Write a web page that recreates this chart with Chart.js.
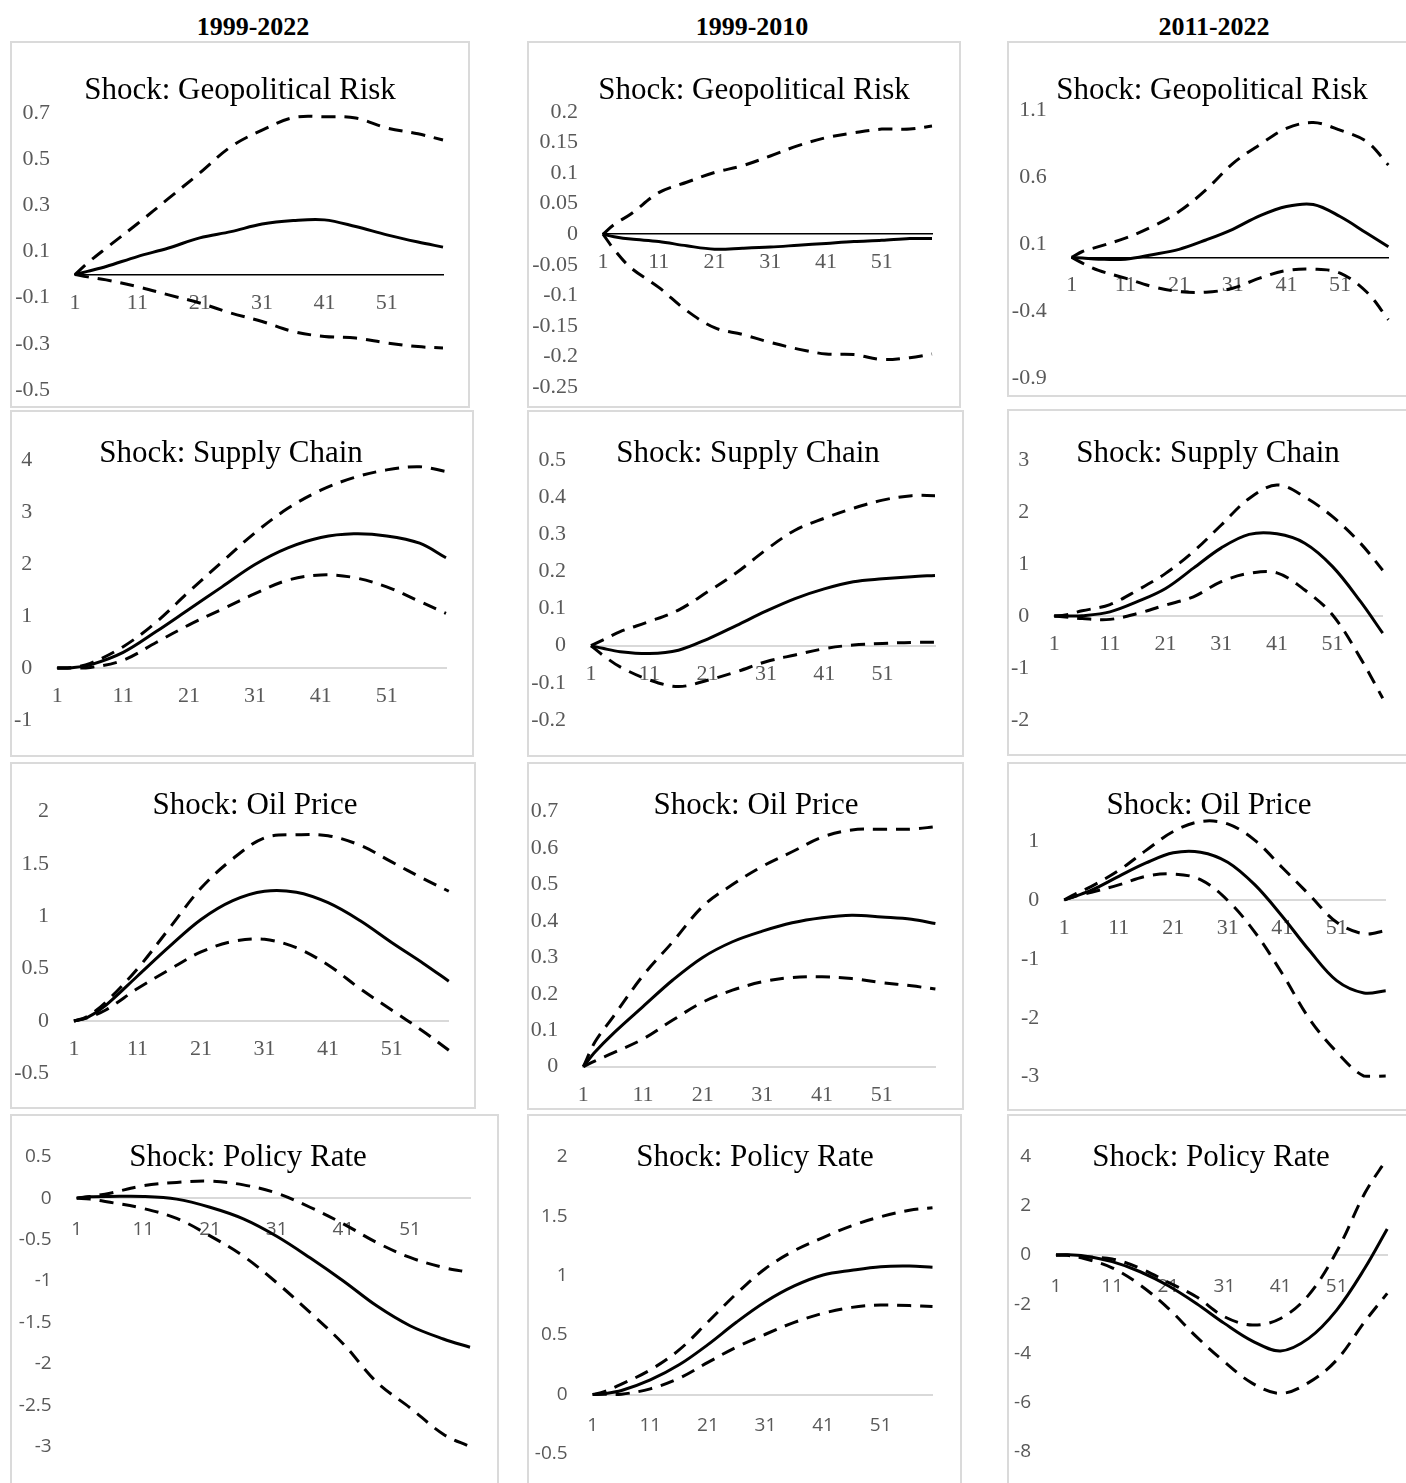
<!DOCTYPE html>
<html>
<head>
<meta charset="utf-8">
<script src="https://cdn.jsdelivr.net/npm/chart.js@4.4.1/dist/chart.umd.min.js"></script>
<style>
  html, body { margin: 0; padding: 0; background: #fff; }
  body { position: relative; width: 1406px; height: 1483px; overflow: hidden; }
  .period {
    position: absolute; top: 12px; line-height: 30px;
    font: bold 26px "Liberation Serif", serif; color: #000;
    transform: translateX(-50%); white-space: nowrap;
  }
  .frame { position: absolute; box-sizing: border-box; border: 2px solid #dadada; }
  canvas { position: absolute; }
</style>
</head>
<body>
<div class="period" style="left:253px">1999-2022</div>
<div class="period" style="left:752px">1999-2010</div>
<div class="period" style="left:1214px">2011-2022</div>

<script>
// horizons at which each impulse response is recorded
const STEPS = [1, 3, 6, 11, 16, 21, 26, 31, 36, 41, 46, 51, 56, 60];
const X_TICKS = [1, 11, 21, 31, 41, 51];
const SHOCKS = ['Geopolitical Risk', 'Supply Chain', 'Oil Price', 'Policy Rate'];

// --- Geopolitical risk shock ---
const geoIrfFull  = [0, 0.014, 0.035, 0.078, 0.115, 0.159, 0.186, 0.219, 0.234, 0.237, 0.208, 0.172, 0.141, 0.119];
const geoHiFull   = [0, 0.05, 0.115, 0.22, 0.33, 0.44, 0.554, 0.626, 0.68, 0.684, 0.678, 0.635, 0.61, 0.583];
const geoLoFull   = [0, -0.01, -0.023, -0.052, -0.088, -0.123, -0.167, -0.203, -0.247, -0.268, -0.275, -0.296, -0.312, -0.318];
const geoTicksFull = [-0.5, -0.3, -0.1, 0.1, 0.3, 0.5, 0.7];

const geoIrfEarly = [0, -0.004, -0.008, -0.012, -0.019, -0.0245, -0.023, -0.021, -0.018, -0.015, -0.012, -0.01, -0.007, -0.007];
const geoHiEarly  = [0, 0.016, 0.033, 0.068, 0.085, 0.101, 0.112, 0.128, 0.145, 0.158, 0.166, 0.172, 0.172, 0.177];
const geoLoEarly  = [0, -0.025, -0.055, -0.087, -0.125, -0.153, -0.164, -0.177, -0.188, -0.196, -0.197, -0.205, -0.202, -0.196];
const geoTicksEarly = [-0.25, -0.2, -0.15, -0.1, -0.05, 0, 0.05, 0.1, 0.15, 0.2];

const geoIrfLate  = [0, -0.005, -0.013, -0.013, 0.02, 0.06, 0.13, 0.21, 0.31, 0.38, 0.395, 0.305, 0.18, 0.08];
const geoHiLate   = [0, 0.044, 0.08, 0.144, 0.23, 0.342, 0.504, 0.70, 0.84, 0.963, 1.006, 0.95, 0.863, 0.69];
const geoLoLate   = [0, -0.043, -0.097, -0.155, -0.217, -0.255, -0.26, -0.23, -0.155, -0.098, -0.088, -0.117, -0.26, -0.465];
const geoTicksLate = [-0.9, -0.4, 0.1, 0.6, 1.1];

// --- Supply chain shock ---
const supIrfFull  = [0, 0.005, 0.06, 0.30, 0.70, 1.13, 1.56, 1.99, 2.31, 2.51, 2.58, 2.54, 2.40, 2.12];
const supHiFull   = [0, 0.005, 0.09, 0.41, 0.88, 1.47, 2.04, 2.60, 3.07, 3.42, 3.66, 3.81, 3.87, 3.78];
const supLoFull   = [0, 0, 0.01, 0.15, 0.49, 0.83, 1.13, 1.43, 1.69, 1.79, 1.74, 1.56, 1.28, 1.05];
const supTicksFull = [-1, 0, 1, 2, 3, 4];

const supIrfEarly = [0, -0.007, -0.016, -0.021, -0.012, 0.018, 0.055, 0.093, 0.127, 0.153, 0.172, 0.18, 0.186, 0.189];
const supHiEarly  = [0, 0.015, 0.038, 0.065, 0.096, 0.145, 0.197, 0.258, 0.311, 0.343, 0.37, 0.392, 0.404, 0.404];
const supLoEarly  = [0, -0.025, -0.057, -0.092, -0.11, -0.093, -0.07, -0.043, -0.025, -0.008, 0.002, 0.006, 0.009, 0.009];
const supTicksEarly = [-0.2, -0.1, 0, 0.1, 0.2, 0.3, 0.4, 0.5];

const supIrfLate  = [0, 0, 0.005, 0.08, 0.28, 0.53, 0.92, 1.31, 1.57, 1.58, 1.40, 0.95, 0.28, -0.33];
const supHiLate   = [0, 0.02, 0.10, 0.22, 0.50, 0.82, 1.24, 1.75, 2.26, 2.52, 2.29, 1.91, 1.40, 0.88];
const supLoLate   = [0, -0.02, -0.05, -0.065, 0.05, 0.21, 0.37, 0.66, 0.82, 0.83, 0.50, 0.02, -0.81, -1.58];
const supTicksLate = [-2, -1, 0, 1, 2, 3];

// --- Oil price shock ---
const oilIrfFull  = [0, 0.03, 0.15, 0.43, 0.71, 0.97, 1.15, 1.24, 1.23, 1.13, 0.96, 0.75, 0.55, 0.38];
const oilHiFull   = [0, 0.04, 0.18, 0.50, 0.885, 1.27, 1.55, 1.75, 1.78, 1.77, 1.68, 1.52, 1.36, 1.24];
const oilLoFull   = [0, 0.03, 0.105, 0.31, 0.49, 0.66, 0.76, 0.78, 0.70, 0.535, 0.31, 0.105, -0.10, -0.28];
const oilTicksFull = [-0.5, 0, 0.5, 1, 1.5, 2];

const oilIrfEarly = [0, 0.041, 0.091, 0.165, 0.238, 0.30, 0.343, 0.372, 0.395, 0.409, 0.416, 0.411, 0.405, 0.393];
const oilHiEarly  = [0, 0.069, 0.137, 0.25, 0.343, 0.44, 0.50, 0.55, 0.59, 0.63, 0.65, 0.652, 0.652, 0.659];
const oilLoEarly  = [0, 0.016, 0.038, 0.076, 0.128, 0.177, 0.21, 0.233, 0.245, 0.247, 0.242, 0.231, 0.222, 0.213];
const oilTicksEarly = [0, 0.1, 0.2, 0.3, 0.4, 0.5, 0.6, 0.7];

const oilIrfLate  = [0, 0.062, 0.164, 0.40, 0.627, 0.80, 0.81, 0.64, 0.254, -0.277, -0.86, -1.37, -1.58, -1.54];
const oilHiLate   = [0, 0.10, 0.23, 0.50, 0.84, 1.16, 1.33, 1.29, 1.01, 0.55, 0.085, -0.38, -0.576, -0.52];
const oilLoLate   = [0, 0.062, 0.13, 0.254, 0.40, 0.44, 0.345, -0.01, -0.55, -1.25, -2.02, -2.58, -2.99, -2.99];
const oilTicksLate = [-3, -2, -1, 0, 1];

// --- Policy rate shock ---
const polIrfFull  = [0, 0.016, 0.02, 0.02, -0.012, -0.11, -0.25, -0.46, -0.72, -1.00, -1.30, -1.54, -1.70, -1.80];
const polHiFull   = [0, 0.02, 0.06, 0.15, 0.19, 0.205, 0.16, 0.06, -0.11, -0.31, -0.535, -0.716, -0.837, -0.897];
const polLoFull   = [0, -0.012, -0.05, -0.125, -0.245, -0.455, -0.70, -1.02, -1.38, -1.76, -2.22, -2.53, -2.85, -3.0];
const polTicksFull = [-3, -2.5, -2, -1.5, -1, -0.5, 0, 0.5];

const polIrfEarly = [0, 0.008, 0.034, 0.123, 0.25, 0.42, 0.61, 0.78, 0.913, 1.005, 1.045, 1.075, 1.08, 1.07];
const polHiEarly  = [0, 0.025, 0.087, 0.207, 0.375, 0.61, 0.85, 1.06, 1.21, 1.32, 1.42, 1.495, 1.55, 1.57];
const polLoEarly  = [0, 0.003, 0.003, 0.048, 0.137, 0.27, 0.40, 0.507, 0.607, 0.683, 0.733, 0.753, 0.748, 0.74];
const polTicksEarly = [-0.5, 0, 0.5, 1, 1.5, 2];

const polIrfLate  = [0, 0.01, -0.04, -0.27, -0.68, -1.25, -1.97, -2.78, -3.50, -3.90, -3.39, -2.24, -0.54, 1.06];
const polHiLate   = [0, 0, -0.07, -0.16, -0.54, -1.11, -1.70, -2.51, -2.85, -2.58, -1.63, 0.14, 2.51, 3.93];
const polLoLate   = [0, -0.01, -0.14, -0.52, -1.22, -2.17, -3.32, -4.34, -5.22, -5.63, -5.19, -4.27, -2.71, -1.56];
const polTicksLate = [-8, -6, -4, -2, 0, 2, 4];

// one entry per panel, row by row
const PANELS = [
  { shock: SHOCKS[0], irf: geoIrfFull,  hi: geoHiFull,  lo: geoLoFull,  ticks: geoTicksFull },
  { shock: SHOCKS[0], irf: geoIrfEarly, hi: geoHiEarly, lo: geoLoEarly, ticks: geoTicksEarly },
  { shock: SHOCKS[0], irf: geoIrfLate,  hi: geoHiLate,  lo: geoLoLate,  ticks: geoTicksLate },
  { shock: SHOCKS[1], irf: supIrfFull,  hi: supHiFull,  lo: supLoFull,  ticks: supTicksFull },
  { shock: SHOCKS[1], irf: supIrfEarly, hi: supHiEarly, lo: supLoEarly, ticks: supTicksEarly },
  { shock: SHOCKS[1], irf: supIrfLate,  hi: supHiLate,  lo: supLoLate,  ticks: supTicksLate },
  { shock: SHOCKS[2], irf: oilIrfFull,  hi: oilHiFull,  lo: oilLoFull,  ticks: oilTicksFull },
  { shock: SHOCKS[2], irf: oilIrfEarly, hi: oilHiEarly, lo: oilLoEarly, ticks: oilTicksEarly },
  { shock: SHOCKS[2], irf: oilIrfLate,  hi: oilHiLate,  lo: oilLoLate,  ticks: oilTicksLate, max: 1.5 },
  { shock: SHOCKS[3], irf: polIrfFull,  hi: polHiFull,  lo: polLoFull,  ticks: polTicksFull },
  { shock: SHOCKS[3], irf: polIrfEarly, hi: polHiEarly, lo: polLoEarly, ticks: polTicksEarly },
  { shock: SHOCKS[3], irf: polIrfLate,  hi: polHiLate,  lo: polLoLate,  ticks: polTicksLate },
];

// page geometry: frame [x, y, w, h], plot area [left, right, top, bottom], title centre [x, y]
const LAYOUT = [
  [[10, 41, 460, 367],    [75, 443, 113, 390],         [240, 91]],
  [[527, 41, 434, 367],   [603, 932, 112, 387],        [754, 91]],
  [[1007, 41, 410, 356],  [1071.7, 1388.4, 110, 378],  [1212, 91]],
  [[10, 410, 464, 347],   [57.3, 446, 460, 720],       [231, 454]],
  [[527, 410, 437, 347],  [591, 935, 460, 720],        [748, 454]],
  [[1007, 409, 410, 347], [1054.3, 1382.7, 460, 720],  [1208, 454]],
  [[10, 762, 466, 347],   [74, 448.8, 811.7, 1073.3],  [255, 806]],
  [[527, 762, 437, 348],  [583.3, 935.4, 811.7, 1066.7], [756, 806]],
  [[1007, 762, 410, 349], [1064.3, 1385.7, 811.5, 1076.7], [1209, 806]],
  [[10, 1114, 489, 380],  [76.7, 470, 1156.7, 1446.7], [248, 1158]],
  [[527, 1114, 435, 380], [592.7, 932.5, 1156.7, 1454], [755, 1158]],
  [[1007, 1114, 410, 380], [1056, 1387.2, 1156.7, 1451.7], [1211, 1158]],
];

const SERIF = '"Liberation Serif", "Times New Roman", serif';
const SANS = '"Open Sans", "Noto Sans", sans-serif';

const toPoints = vals => STEPS.map((x, i) => ({ x, y: vals[i] }));
const fmt = v => String(+Number(v).toFixed(4));

// moves the title block sideways so it sits on its own centre line
const titleCentre = {
  id: 'titleCentre',
  afterLayout(chart, args, opts) {
    const t = chart.titleBlock;
    if (!t || opts.x === undefined) return;
    const dx = opts.x - (t.left + t.right) / 2;
    t.left += dx;
    t.right += dx;
  }
};

PANELS.forEach((p, i) => {
  const [[bx, by, bw, bh], [L, R, T, B], [tx, ty]] = LAYOUT[i];
  const row = Math.floor(i / 3);

  const frame = document.createElement('div');
  frame.className = 'frame';
  Object.assign(frame.style, { left: bx + 'px', top: by + 'px', width: bw + 'px', height: bh + 'px' });
  document.body.appendChild(frame);

  const canvas = document.createElement('canvas');
  canvas.width = bw;
  canvas.height = bh;
  Object.assign(canvas.style, { left: bx + 'px', top: by + 'px', width: bw + 'px', height: bh + 'px' });
  document.body.appendChild(canvas);

  const padRight = bw - (R - bx);
  const padTop = T - by;
  const padBottom = bh - (B - by);
  const yAxisWidth = L - bx;

  const tickFont = row === 3 ? { family: SANS, size: 19 } : { family: SERIF, size: 22 };
  const zeroLine = row === 0 ? { color: '#000', width: 1.5 } : { color: '#d9d9d9', width: 2 };

  const dashed = vals => ({
    data: toPoints(vals), borderColor: '#000', borderWidth: 3,
    borderDash: [14, 9], clip: false
  });

  new Chart(canvas, {
    type: 'line',
    data: {
      datasets: [
        dashed(p.hi),
        dashed(p.lo),
        { data: toPoints(p.irf), borderColor: '#000', borderWidth: 3, clip: false }
      ]
    },
    plugins: [titleCentre],
    options: {
      responsive: false,
      animation: false,
      events: [],
      layout: { padding: { left: 0, right: padRight, top: padTop, bottom: padBottom } },
      elements: {
        point: { radius: 0 },
        line: { tension: 0.35, borderCapStyle: 'butt', borderJoinStyle: 'round' }
      },
      plugins: {
        legend: { display: false },
        tooltip: { enabled: false },
        titleCentre: { x: tx - bx },
        title: {
          display: true,
          text: 'Shock: ' + p.shock,
          color: '#000',
          font: { family: SERIF, size: 31, weight: 'normal', lineHeight: '0px' },
          padding: { top: ty - T, bottom: T - ty }
        }
      },
      scales: {
        x: {
          type: 'linear',
          min: 1,
          max: 60,
          position: { y: 0 },
          afterBuildTicks: s => { s.ticks = X_TICKS.map(v => ({ value: v })); },
          grid: { display: false, drawTicks: false },
          border: { display: true, color: zeroLine.color, width: zeroLine.width },
          ticks: {
            font: tickFont, color: '#595959', padding: row === 3 ? 20 : 15,
            maxRotation: 0, autoSkip: false, callback: v => String(v)
          }
        },
        y: {
          type: 'linear',
          min: p.ticks[0],
          max: p.max !== undefined ? p.max : p.ticks[p.ticks.length - 1],
          afterBuildTicks: s => { s.ticks = p.ticks.map(v => ({ value: v })); },
          afterFit: s => { s.width = yAxisWidth; },
          // the tick length only spaces the labels; grid lines are off
          grid: { display: false, drawTicks: true, tickLength: 25 },
          border: { display: false },
          ticks: { font: tickFont, color: '#595959', padding: 0, callback: v => fmt(v) }
        }
      }
    }
  });
});
</script>
</body>
</html>
